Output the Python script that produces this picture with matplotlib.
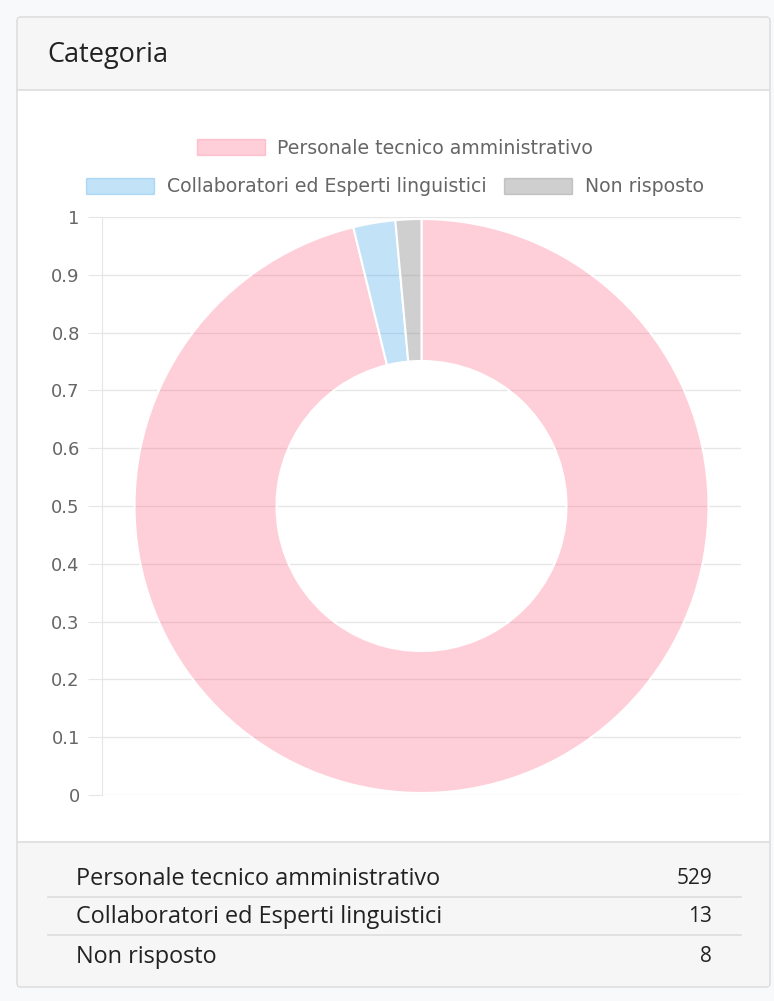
import matplotlib.pyplot as plt
from matplotlib.patches import FancyBboxPatch, Rectangle, Patch

W, H = 774, 1001

title = "Categoria"
categories = ["Personale tecnico amministrativo",
              "Collaboratori ed Esperti linguistici",
              "Non risposto"]
counts = [529, 13, 8]
# semi-transparent fills, like the chart.js defaults
colors = [(1.0, 99 / 255, 132 / 255, 0.3),
          (54 / 255, 162 / 255, 235 / 255, 0.3),
          (150 / 255, 150 / 255, 150 / 255, 0.45)]
y_ticks = [0, 0.1, 0.2, 0.3, 0.4, 0.5, 0.6, 0.7, 0.8, 0.9, 1]
y_tick_labels = ["0", "0.1", "0.2", "0.3", "0.4", "0.5", "0.6", "0.7", "0.8", "0.9", "1"]

GRID = "#e6e6e6"
TXT = "#666666"


def frac(x0, y0, x1, y1):
    # pixel box (top-left origin) -> figure fraction rect
    return [x0 / W, 1 - y1 / H, (x1 - x0) / W, (y1 - y0) / H]


fig = plt.figure(figsize=(W / 100, H / 100), dpi=100, facecolor="#f8f9fb")

# card background
bg = fig.add_axes([0, 0, 1, 1], zorder=0)
bg.set_xlim(0, W)
bg.set_ylim(H, 0)
bg.axis("off")
bg.add_patch(FancyBboxPatch((17, 17), 753, 970, boxstyle="round,pad=0,rounding_size=4",
                            fc="white", ec="#d8d8d8", lw=1))
bg.add_patch(Rectangle((18, 18), 751, 72, fc="#f6f6f6", ec="none"))
bg.add_patch(Rectangle((18, 842), 751, 144, fc="#f6f6f6", ec="none"))
bg.plot([18, 769], [90, 90], color="#dddddd", lw=1.2)
bg.plot([18, 769], [842, 842], color="#dddddd", lw=1.2)
bg.text(47, 55, title, fontsize=19.5, family="Open Sans", color="#222222", va="center")

# table under the chart
row_y = [879, 917, 957]
for i, (cat, n) in enumerate(zip(categories, counts)):
    bg.text(76, row_y[i], cat, fontsize=16.9, family="Open Sans", color="#222222", va="center")
    bg.text(712, row_y[i], str(n), fontsize=15, family="Open Sans", color="#222222",
            va="center", ha="right")
    if i < len(categories) - 1:
        bg.plot([48, 741], [row_y[i] + 17.5, row_y[i] + 17.5], color="#dddddd", lw=1.2)

# axes with the (meaningless) linear scale
ax = fig.add_axes(frac(102, 217, 741, 795), zorder=1)
ax.set_facecolor("none")
ax.set_ylim(0, 1)
ax.set_yticks(y_ticks)
ax.set_yticklabels(y_tick_labels)
ax.set_xticks([])
ax.yaxis.grid(True, color=GRID, lw=1)
ax.tick_params(axis="y", length=10, color=GRID, pad=6, labelsize=13, labelcolor=TXT)
for s in ["top", "right", "bottom"]:
    ax.spines[s].set_visible(False)
ax.spines["left"].set_color(GRID)

# doughnut on top, in pixel units
pax = fig.add_axes(frac(102, 217, 741, 795), zorder=2)
pax.pie(counts, colors=colors, startangle=90, counterclock=False,
        radius=287, center=(319.5, 289),
        wedgeprops=dict(width=142, edgecolor="white", linewidth=1.5))
pax.set_xlim(0, 639)
pax.set_ylim(0, 578)
pax.set_aspect("auto")
pax.axis("off")

# legend, two centred rows
handles = [Patch(facecolor=c, edgecolor=c) for c in colors]
leg_kw = dict(loc="center", frameon=False, fontsize=13.6, labelcolor=TXT,
              handlelength=3.6, handleheight=1.0, handletextpad=0.65,
              columnspacing=0.95, borderpad=0, borderaxespad=0)
fig.legend(handles[:1], categories[:1], bbox_to_anchor=(395 / W, 1 - 148 / H), **leg_kw)
fig.legend(handles[1:], categories[1:], ncol=2, bbox_to_anchor=(395 / W, 1 - 187 / H), **leg_kw)

fig.savefig("out.png", dpi=100, facecolor=fig.get_facecolor())
